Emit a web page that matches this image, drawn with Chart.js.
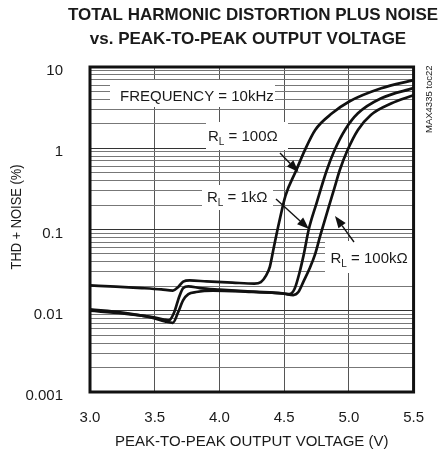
<!DOCTYPE html>
<html>
<head>
<meta charset="utf-8">
<script src="https://cdn.jsdelivr.net/npm/chart.js@4.4.1/dist/chart.umd.min.js"></script>
<style>
  html, body { margin: 0; padding: 0; background: #fff; }
</style>
</head>
<body>
<canvas id="thdChart" width="441" height="456"></canvas>
<script>
"use strict";

var FONT = "'Liberation Sans', Arial, Helvetica, sans-serif";

// axes
var X_TICKS = [3.0, 3.5, 4.0, 4.5, 5.0, 5.5];
var Y_TICKS = [0.001, 0.01, 0.1, 1, 10];
var Y_LABELS = ['0.001', '0.01', '0.1', '1', '10'];

// RL = 100 ohm
var VOLT_100 = [3.00, 3.20, 3.40, 3.55, 3.64, 3.68, 3.72, 3.77, 3.90, 4.10, 4.27, 4.32, 4.36, 4.39, 4.42, 4.46, 4.51, 4.59, 4.66, 4.74, 4.87, 5.00, 5.25, 5.50];
var THD_100 = [0.0205, 0.0198, 0.0190, 0.0183, 0.0177, 0.0195, 0.0228, 0.0236, 0.0230, 0.0222, 0.0216, 0.0225, 0.027, 0.035, 0.060, 0.12, 0.26, 0.52, 0.95, 1.68, 2.69, 3.74, 5.47, 6.9];

// RL = 1k
var VOLT_1K = [3.00, 3.25, 3.47, 3.57, 3.61, 3.65, 3.69, 3.72, 3.76, 3.85, 4.00, 4.25, 4.50, 4.54, 4.58, 4.62, 4.65, 4.69, 4.75, 4.83, 4.89, 4.97, 5.07, 5.25, 5.50];
var THD_1K = [0.0100, 0.0093, 0.0084, 0.0078, 0.0076, 0.0095, 0.0150, 0.0190, 0.0200, 0.0190, 0.0182, 0.0172, 0.0163, 0.0160, 0.0185, 0.030, 0.048, 0.100, 0.21, 0.54, 0.95, 1.68, 2.69, 4.12, 5.5];

// RL = 100k
var VOLT_100K = [3.00, 3.25, 3.47, 3.58, 3.64, 3.68, 3.72, 3.76, 3.82, 3.95, 4.20, 4.50, 4.57, 4.61, 4.65, 4.70, 4.74, 4.78, 4.84, 4.89, 4.93, 4.99, 5.07, 5.17, 5.33, 5.50];
var THD_100K = [0.0104, 0.0095, 0.0083, 0.0074, 0.0071, 0.0095, 0.0135, 0.0160, 0.0170, 0.0177, 0.0172, 0.0162, 0.0156, 0.0170, 0.023, 0.034, 0.050, 0.085, 0.18, 0.33, 0.54, 0.95, 1.68, 2.57, 3.57, 4.5];

function toPoints(xs, ys) {
    return xs.map(function (x, i) { return { x: x, y: ys[i] }; });
}

function curve(label, xs, ys) {
    return {
        label: label,
        data: toPoints(xs, ys),
        borderColor: '#111',
        borderWidth: 2.7,
        pointRadius: 0,
        fill: false,
        cubicInterpolationMode: 'monotone'
    };
}

function isDecade(v) {
    return Y_TICKS.some(function (t) { return Math.abs(t - v) / t < 1e-6; });
}

// log grid: 1..9 in each decade
function logGrid() {
    var out = [];
    for (var i = 0; i < Y_TICKS.length - 1; i++) {
        for (var k = 1; k <= 9; k++) out.push({ value: +(Y_TICKS[i] * k).toPrecision(6) });
    }
    out.push({ value: Y_TICKS[Y_TICKS.length - 1] });
    return out;
}

// R with subscript L
function drawRL(c, x, y, rest) {
    c.font = '15px ' + FONT;
    c.fillText('R', x, y);
    var w = c.measureText('R').width;
    c.font = '10px ' + FONT;
    c.fillText('L', x + w, y + 4);
    var w2 = c.measureText('L').width;
    c.font = '15px ' + FONT;
    c.fillText(rest, x + w + w2, y);
}

function arrow(c, x1, y1, x2, y2) {
    var a = Math.atan2(y2 - y1, x2 - x1);
    var len = 12, half = 4.5;
    var bx = x2 - len * Math.cos(a), by = y2 - len * Math.sin(a);
    c.beginPath();
    c.moveTo(x1, y1);
    c.lineTo(bx, by);
    c.lineWidth = 1.4;
    c.stroke();
    c.beginPath();
    c.moveTo(x2, y2);
    c.lineTo(bx + half * Math.sin(a), by - half * Math.cos(a));
    c.lineTo(bx - half * Math.sin(a), by + half * Math.cos(a));
    c.closePath();
    c.fill();
}

var decor = {
    id: 'decor',
    beforeDatasetsDraw: function (chart) {
        var c = chart.ctx;
        c.save();
        c.fillStyle = '#fff';
        c.fillRect(110, 80, 165, 27);
        c.fillRect(206, 122, 82, 28);
        c.fillRect(202, 185, 71, 25);
        c.fillRect(325, 241, 88, 32);
        c.fillStyle = '#1a1a1a';
        c.textBaseline = 'alphabetic';
        c.textAlign = 'left';
        c.font = '15px ' + FONT;
        c.fillText('FREQUENCY = 10kHz', 120, 101);
        drawRL(c, 208, 141, ' = 100\u03A9');
        drawRL(c, 207, 201.5, ' = 1k\u03A9');
        drawRL(c, 330.5, 263, ' = 100k\u03A9');
        c.restore();
    },
    afterDatasetsDraw: function (chart) {
        var c = chart.ctx, a = chart.chartArea;
        c.save();
        c.strokeStyle = '#111';
        c.fillStyle = '#111';
        arrow(c, 280, 153, 298.5, 172);
        arrow(c, 276, 199, 309, 229);
        arrow(c, 354, 242, 335, 216);
        c.lineWidth = 3;
        c.strokeRect(a.left, a.top, a.right - a.left, a.bottom - a.top);
        c.restore();
    },
    afterDraw: function (chart) {
        var c = chart.ctx;
        c.save();
        c.fillStyle = '#1a1a1a';
        c.textAlign = 'center';
        c.textBaseline = 'alphabetic';
        c.font = 'bold 17px ' + FONT;
        c.fillText('TOTAL HARMONIC DISTORTION PLUS NOISE', 253, 20);
        c.fillText('vs. PEAK-TO-PEAK OUTPUT VOLTAGE', 248, 43.5);

        // y title, a bit condensed like the original
        c.save();
        c.translate(21, 217);
        c.rotate(-Math.PI / 2);
        c.scale(0.86, 1);
        c.font = '15px ' + FONT;
        c.fillText('THD + NOISE (%)', 0, 0);
        c.restore();

        c.save();
        c.translate(432, 133);
        c.rotate(-Math.PI / 2);
        c.textAlign = 'left';
        c.font = '9.5px ' + FONT;
        c.fillText('MAX4335 toc22', 0, 0);
        c.restore();
        c.restore();
    }
};

var thdChart = new Chart(document.getElementById('thdChart'), {
    type: 'line',
    data: {
        datasets: [
            curve('RL = 100\u03A9', VOLT_100, THD_100),
            curve('RL = 1k\u03A9', VOLT_1K, THD_1K),
            curve('RL = 100k\u03A9', VOLT_100K, THD_100K)
        ]
    },
    options: {
        responsive: false,
        animation: false,
        layout: { padding: { top: 67, right: 25, bottom: 0, left: 0 } },
        plugins: {
            legend: { display: false },
            tooltip: { enabled: false }
        },
        scales: {
            x: {
                type: 'linear',
                min: 3,
                max: 5.5,
                afterFit: function (s) { s.height = 64; },
                afterBuildTicks: function (s) { s.ticks = X_TICKS.map(function (v) { return { value: v }; }); },
                ticks: {
                    padding: 17,
                    color: '#1a1a1a',
                    font: { family: FONT, size: 15 },
                    callback: function (v) { return Number(v).toFixed(1); }
                },
                grid: { color: '#555', lineWidth: 1, drawTicks: false },
                border: { display: false },
                title: {
                    display: true,
                    text: 'PEAK-TO-PEAK OUTPUT VOLTAGE (V)',
                    color: '#1a1a1a',
                    font: { family: FONT, size: 15 },
                    padding: { top: 0, bottom: 5 }
                }
            },
            y: {
                type: 'logarithmic',
                min: 0.001,
                max: 10,
                afterFit: function (s) { s.width = 90; },
                afterBuildTicks: function (s) { s.ticks = logGrid(); },
                ticks: {
                    autoSkip: false,
                    padding: 27,
                    labelOffset: 4,
                    color: '#1a1a1a',
                    font: { family: FONT, size: 15 },
                    callback: function (v) {
                        var i = Y_TICKS.findIndex(function (t) { return Math.abs(t - v) / t < 1e-6; });
                        return i >= 0 ? Y_LABELS[i] : '';
                    }
                },
                grid: {
                    drawTicks: false,
                    lineWidth: 1,
                    color: function (ctx) { return ctx.tick && isDecade(ctx.tick.value) ? '#333' : '#777'; }
                },
                border: { display: false }
            }
        }
    },
    plugins: [decor]
});
</script>
</body>
</html>
